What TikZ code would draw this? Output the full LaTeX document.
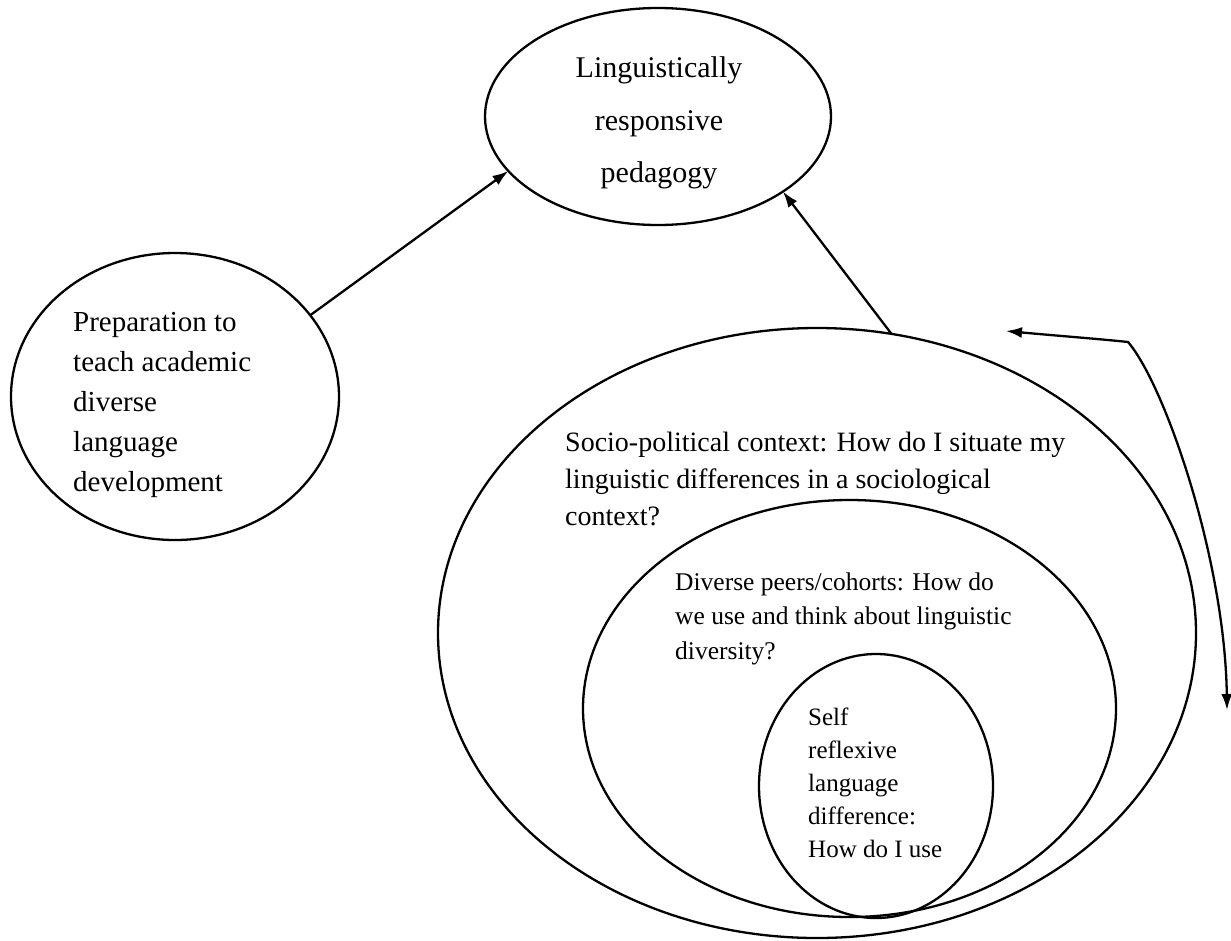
\documentclass[tikz,border=0pt]{standalone}
\usepackage{fontspec}
\setmainfont{Liberation Serif}
\usetikzlibrary{shapes.geometric,arrows.meta}
\begin{document}
\begin{tikzpicture}[x=1pt,y=-1pt,
  pointer/.tip={Latex[length=16pt,width=11pt]},
  ring/.style={draw,ellipse,line width=2.3pt,inner sep=0pt,outer sep=0pt},
  label/.style={inner sep=0pt,align=left,anchor=north west},
  link/.style={line width=2.3pt,-pointer}]
\useasboundingbox (0,0) rectangle (1231,940);
% outcome
\node[ring,minimum width=346pt,minimum height=217pt] (lrp) at (658,116.5) {};
\node[inner sep=0pt,align=center,font=\fontsize{30}{52.5}\selectfont] (lrpt) at (659,123)
  {Linguistically\\responsive\\pedagogy};
% preparation
\node[ring,minimum width=328pt,minimum height=287pt] (prep) at (175,396.5) {};
\node[label,font=\fontsize{29}{40}\selectfont] (prept) at (73,312)
  {Preparation to\\teach academic\\diverse\\language\\development};
% nested contexts
\node[ring,minimum width=758pt,minimum height=610pt] (socio) at (817,633) {};
\node[ring,minimum width=533pt,minimum height=417pt] (peers) at (849.5,708.5) {};
\node[ring,minimum width=234pt,minimum height=264pt] (self) at (876,786) {};
\node[label,font=\fontsize{28}{37}\selectfont] (sociot) at (565,431.5)
  {Socio-political context: How do I situate my\\linguistic differences in a sociological\\context?};
\node[label,font=\fontsize{25.5}{34.5}\selectfont] (peerst) at (675,572.5)
  {Diverse peers/cohorts: How do\\we use and think about linguistic\\diversity?};
\node[label,font=\fontsize{25}{33}\selectfont] (selft) at (808,707.8)
  {Self\\reflexive\\language\\difference:\\How do I use};
% connectors
\draw[link] (prep.31) -- (lrp.200.8);
\draw[link] (socio.76.4) -- (lrp.329.1);
\coordinate (loopL) at (1006,331);
\coordinate (loopC) at (1128,342);
\coordinate (loopD) at (1227,710);
\draw[line width=2.3pt,pointer-pointer]
  (loopL) .. controls (1060,336) and (1100,339) .. (loopC)
  .. controls (1165,385) and (1225,560) .. (loopD);
\end{tikzpicture}
\end{document}
